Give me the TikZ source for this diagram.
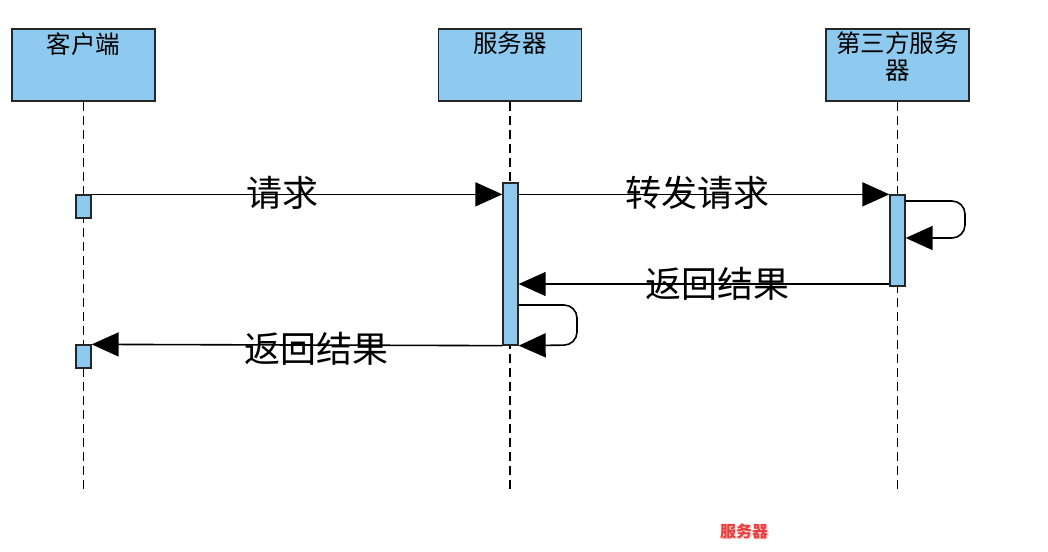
\documentclass[tikz,border=0pt]{standalone}
\usepackage{fontspec}
\setmainfont{Noto Sans CJK SC}
\usetikzlibrary{arrows.meta}
\definecolor{actblue}{RGB}{142,202,239}
\definecolor{wmred}{RGB}{232,64,64}
\tikzset{
  headbox/.style={draw=black!85, line width=1.5pt, fill=actblue, minimum width=143pt, minimum height=72pt, inner sep=0pt},
  actbox/.style={draw=black!85, line width=1.3pt, fill=actblue, minimum width=15pt, inner sep=0pt},
  lifeline/.style={line width=1.6pt, dash pattern=on 9pt off 5pt},
  msg/.style={line width=1.6pt, -{Triangle[length=27pt,width=24pt]}},
  msglabel/.style={font=\fontsize{36}{38}\selectfont, inner sep=0pt},
  headlabel/.style={font=\fontsize{24.5}{27}\selectfont, inner sep=0pt, align=center}
}
\begin{document}
\begin{tikzpicture}[x=1pt,y=-1pt]
\useasboundingbox (0,0) rectangle (1048,551);
% header boxes
\node[headbox] (client) at (83.5,65) {};
\node[headbox] (server) at (510,65) {};
\node[headbox] (third) at (897.5,65) {};
\node[headlabel, anchor=north] (clientT) at (83.5,32) {客户端};
\node[headlabel, anchor=north] (serverT) at (510,32) {服务器};
\node[headlabel, anchor=north] (thirdT) at (897.5,32) {第三方服务\\器};
% lifelines
\coordinate (clientEnd) at (83.5,492);
\coordinate (serverEnd) at (510,492);
\coordinate (thirdEnd) at (897.5,492);
\draw[lifeline] (client.south) -- (clientEnd);
\draw[lifeline] (server.south) -- (serverEnd);
\draw[lifeline] (third.south) -- (thirdEnd);
% activations
\node[actbox, minimum height=23pt] (ca1) at (83.5,206.5) {};
\node[actbox, minimum height=23pt] (ca2) at (83.5,356.5) {};
\node[actbox, minimum height=162pt] (sa) at (510.5,264) {};
\node[actbox, minimum height=91pt] (ta) at (897.5,240.5) {};
% messages
\draw[msg] (ca1.north east) -- (sa.west |- ca1.north east);
\node[msglabel] (m1) at (282,193) {请求};
\draw[msg] (sa.east |- ta.north west) -- (ta.north west);
\node[msglabel] (m2) at (697,193) {转发请求};
% third self loop
\coordinate (tl1) at (905,201);
\coordinate (tl2) at (965,201);
\coordinate (tl3) at (965,238);
\draw[msg, rounded corners=13pt] (ta.east |- tl1) -- (tl2) -- (tl3) -- (ta.east |- tl3);
% return
\draw[msg] (ta.west |- 0,284) -- (sa.east |- 0,284);
\node[msglabel] (m3) at (717,284) {返回结果};
% server self loop
\coordinate (sl1) at (518,305);
\coordinate (sl2) at (577,305);
\coordinate (sl3) at (577,345);
\draw[msg, rounded corners=13pt] (sa.east |- sl1) -- (sl2) -- (sl3) -- (sa.south east);
% return to client
\draw[msg] (sa.south west) -- (ca2.north east);
\node[msglabel] (m4) at (316,349) {返回结果};
% watermark
\node[font=\bfseries\fontsize{16}{18}\selectfont, text=wmred!25, inner sep=0pt] (wmS) at (745.5,532.5) {服务器};
\node[font=\bfseries\fontsize{16}{18}\selectfont, text=wmred, inner sep=0pt] (wm) at (744,531) {服务器};
\end{tikzpicture}
\end{document}
